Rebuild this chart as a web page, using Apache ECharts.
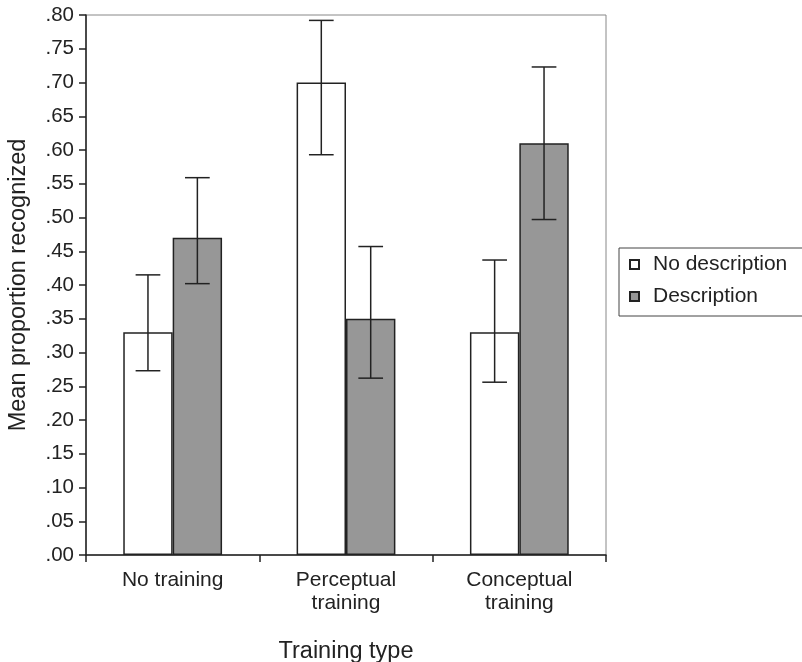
<!DOCTYPE html>
<html>
<head>
<meta charset="utf-8">
<script src="https://cdn.jsdelivr.net/npm/echarts@6/dist/echarts.min.js"></script>
<style>
html,body{margin:0;padding:0;background:#fff;}
#chart{width:802px;height:662px;}
</style>
</head>
<body>
<div id="chart"></div>
<script>
var categories = ['No training', 'Perceptual\ntraining', 'Conceptual\ntraining'];
var noDescription = [0.33, 0.70, 0.33];
var description = [0.47, 0.35, 0.61];
var noDescLow = [0.273, 0.593, 0.256];
var noDescHigh = [0.415, 0.792, 0.437];
var descLow = [0.402, 0.262, 0.497];
var descHigh = [0.559, 0.457, 0.723];

var FONT = '"Liberation Sans", Arial, Helvetica, sans-serif';
var CAT_GAP = 0.43;

function errorData(lo, hi) {
  return categories.map(function (c, i) { return [i, lo[i], hi[i]]; });
}
function makeRender(side) {
  return function (params, api) {
    var i = api.value(0);
    var lo = api.coord([i, api.value(1)]);
    var hi = api.coord([i, api.value(2)]);
    var band = api.size([1, 0])[0];
    var bw = band * (1 - CAT_GAP) / 2;
    var x = lo[0] + side * bw / 2;
    var cap = bw / 4;
    var st = { stroke: '#222', lineWidth: 1.5 };
    return {
      type: 'group',
      children: [
        { type: 'line', shape: { x1: x, y1: lo[1], x2: x, y2: hi[1] }, style: st },
        { type: 'line', shape: { x1: x - cap, y1: lo[1], x2: x + cap, y2: lo[1] }, style: st },
        { type: 'line', shape: { x1: x - cap, y1: hi[1], x2: x + cap, y2: hi[1] }, style: st }
      ]
    };
  };
}

var chart = echarts.init(document.getElementById('chart'), null, { renderer: 'canvas' });
chart.setOption({
  animation: false,
  backgroundColor: '#fff',
  textStyle: { fontFamily: FONT, color: '#222' },
  grid: {
    left: 86, right: 196, top: 15, bottom: 107,
    containLabel: false, outerBoundsMode: 'none',
    show: true, borderColor: '#888', borderWidth: 1, backgroundColor: 'transparent'
  },
  legend: {
    orient: 'vertical',
    left: 619, top: 248,
    padding: [6, 60, 9, 10],
    borderColor: '#444', borderWidth: 1,
    itemWidth: 9, itemHeight: 9, itemGap: 11,
    icon: 'rect',
    textStyle: { fontFamily: FONT, fontSize: 21, color: '#222', lineHeight: 20, padding: [0, 0, 0, 9] },
    data: ['No description', 'Description']
  },
  xAxis: {
    type: 'category',
    data: categories,
    name: 'Training type',
    nameLocation: 'middle',
    nameGap: 85,
    nameTextStyle: { fontFamily: FONT, fontSize: 23.5, color: '#222' },
    axisLine: { lineStyle: { color: '#222', width: 1.5 } },
    axisTick: { show: true, length: 7, lineStyle: { color: '#222', width: 1.5 } },
    axisLabel: { fontFamily: FONT, fontSize: 21, color: '#222', margin: 14, lineHeight: 23 },
    splitLine: { show: false }
  },
  yAxis: {
    type: 'value',
    min: 0, max: 0.8, interval: 0.05,
    name: 'Mean proportion recognized',
    nameLocation: 'middle',
    nameGap: 55,
    nameTextStyle: { fontFamily: FONT, fontSize: 23.5, color: '#222' },
    axisLine: { show: true, lineStyle: { color: '#222', width: 1.5 } },
    axisTick: { show: true, length: 7, lineStyle: { color: '#222', width: 1.5 } },
    axisLabel: {
      fontFamily: FONT, fontSize: 20.5, color: '#222', margin: 12,
      formatter: function (v) { return v.toFixed(2).replace(/^0/, ''); }
    },
    splitLine: { show: false }
  },
  series: [
    {
      name: 'No description', type: 'bar', data: noDescription,
      barGap: '0%', barCategoryGap: (CAT_GAP * 100) + '%',
      itemStyle: { color: '#ffffff', borderColor: '#222', borderWidth: 1.5 }
    },
    {
      name: 'Description', type: 'bar', data: description,
      barGap: '0%', barCategoryGap: (CAT_GAP * 100) + '%',
      itemStyle: { color: '#979797', borderColor: '#222', borderWidth: 1.5 }
    },
    {
      type: 'custom', name: 'errNo', renderItem: makeRender(-1),
      data: errorData(noDescLow, noDescHigh), z: 10,
      encode: { x: 0, y: [1, 2] }
    },
    {
      type: 'custom', name: 'errDesc', renderItem: makeRender(1),
      data: errorData(descLow, descHigh), z: 10,
      encode: { x: 0, y: [1, 2] }
    }
  ]
});
</script>
</body>
</html>
